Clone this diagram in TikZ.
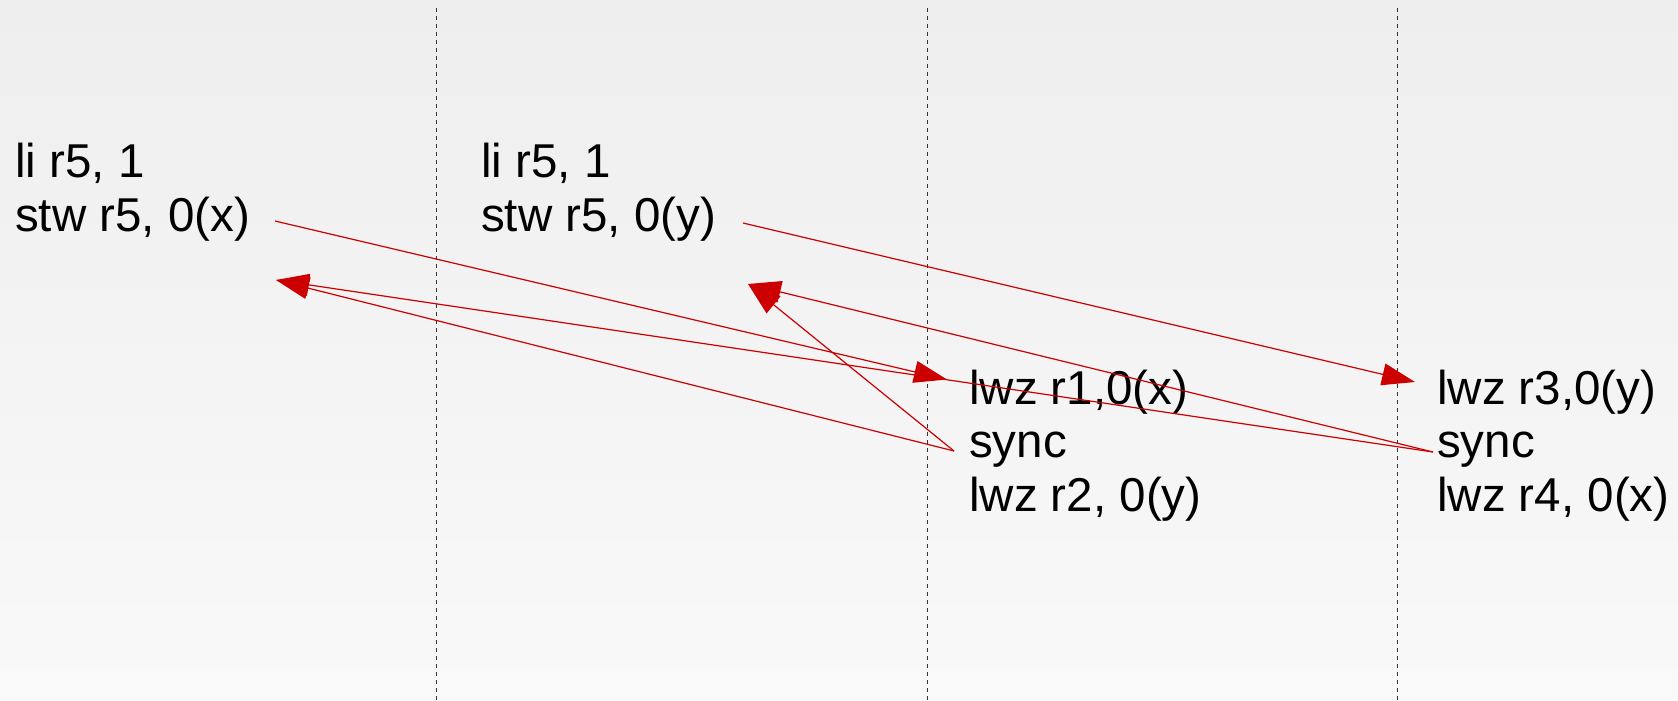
\documentclass[tikz,border=0pt]{standalone}
\usepackage{fontspec}
\setmainfont{Liberation Sans}
\usetikzlibrary{arrows.meta}
\definecolor{msgred}{HTML}{CC0000}
\definecolor{bgtop}{HTML}{EDEEED}
\definecolor{bgbot}{HTML}{F8F9F8}
\definecolor{lanegray}{HTML}{333333}
\tikzset{
  instr/.style={anchor=base west, inner sep=0pt, text=black,
    font=\fontsize{47.5}{54}\selectfont},
  lane/.style={draw=lanegray, line width=1pt, dash pattern=on 4pt off 4pt},
  msg/.style={draw=msgred, line width=1.2pt,
    -{Triangle[length=33pt, width=22pt, fill=msgred]}},
}
\begin{document}
\begin{tikzpicture}[x=1pt, y=-1pt]
  % canvas and background
  \useasboundingbox (0,0) rectangle (1678,701);
  \shade[top color=bgtop, bottom color=bgbot] (0,0) rectangle (1678,701);

  % processor separators
  \draw[lane] (436,8) -- (436,701);
  \draw[lane] (927,8) -- (927,701);
  \draw[lane] (1397,8) -- (1397,701);

  % thread 1
  \node[instr] (liA)  at (15,177.5)  {li r5, 1};
  \node[instr] (stwx) at (15,231.5)  {stw r5, 0(x)};
  % thread 2
  \node[instr] (liB)  at (481,177.5) {li r5, 1};
  \node[instr] (stwy) at (481,231.5) {stw r5, 0(y)};
  % thread 3
  \node[instr] (ldA)  at (969,404)   {lwz r1,0(x)};
  \node[instr] (syA)  at (969,457.5) {sync};
  \node[instr] (ldB)  at (969,511)   {lwz r2, 0(y)};
  % thread 4
  \node[instr] (ldC)  at (1437,404)   {lwz r3,0(y)};
  \node[instr] (syB)  at (1437,457.5) {sync};
  \node[instr] (ldD)  at (1437,511)   {lwz r4, 0(x)};

  % message end points
  \coordinate (stwxOut) at (275,221);
  \coordinate (stwyOut) at (743,223);
  \coordinate (ldAIn)   at (947,379.5);
  \coordinate (ldCIn)   at (1415,382);
  \coordinate (stwxIn)  at (276,280);
  \coordinate (stwyIn)  at (748,284);
  \coordinate (syAOut)  at (954,451);
  \coordinate (syBOut)  at (1433,452);

  % stores propagating to the loads
  \draw[msg] (stwxOut) -- (ldAIn);
  \draw[msg] (stwyOut) -- (ldCIn);
  % sync acknowledgements back to the stores
  \draw[msg] (syAOut) -- (stwxIn);
  \draw[msg] (syBOut) -- (stwxIn);
  \draw[msg] (syAOut) -- (stwyIn);
  \draw[msg] (syBOut) -- (stwyIn);
\end{tikzpicture}
\end{document}
